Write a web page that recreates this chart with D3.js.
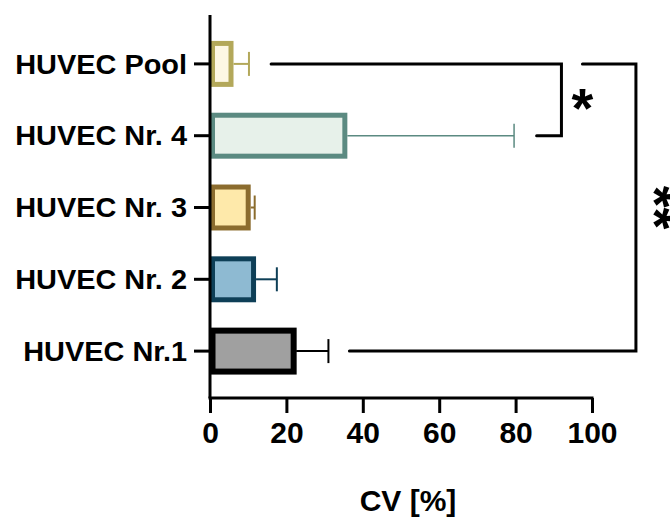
<!DOCTYPE html>
<html>
<head>
<meta charset="utf-8">
<script src="https://cdn.jsdelivr.net/npm/d3@7"></script>
<style>
  body { margin: 0; background: #fff; }
  text { font-family: "Liberation Sans", Arial, sans-serif; font-weight: bold; }
</style>
</head>
<body>
<div id="chart"></div>
<script>
// data
var groups = ["HUVEC Pool", "HUVEC Nr. 4", "HUVEC Nr. 3", "HUVEC Nr. 2", "HUVEC Nr.1"];
var cv_mean = [5.5, 35.3, 10.0, 11.4, 21.9];
var cv_err = [10.2, 79.6, 11.7, 17.5, 31.0];
var fills = ["#fdf7e4", "#e7f1ea", "#fee9aa", "#8ebad2", "#a0a0a0"];
var strokes = ["#b3a85a", "#5b8a81", "#8b6c2e", "#0e3f57", "#000000"];
var x_ticks = [0, 20, 40, 60, 80, 100];
// significance brackets: [from group, to group, label]
var sig = [["HUVEC Pool", "HUVEC Nr. 4", "*"], ["HUVEC Pool", "HUVEC Nr.1", "**"]];

var w = 670, h = 518;
var svg = d3.select("#chart").append("svg")
    .attr("width", w).attr("height", h);

var x = d3.scaleLinear().domain([0, 100]).range([210, 592]);
var y = d3.scaleBand().domain(groups).range([28, 387]).paddingInner(0.36).paddingOuter(0.18);

var bh = y.bandwidth();

// bars
svg.selectAll("rect.bar")
    .data(groups)
    .join("rect")
    .attr("class", "bar")
    .attr("x", x(0) + 2.5)
    .attr("y", d => y(d) + 2.5)
    .attr("width", (d, i) => x(cv_mean[i]) - x(0) - 2.5)
    .attr("height", bh - 5)
    .attr("fill", (d, i) => fills[i])
    .attr("stroke", (d, i) => strokes[i])
    .attr("stroke-width", (d, i) => i == 4 ? 6 : 5);

// error bars
var eb = svg.selectAll("g.err")
    .data(groups)
    .join("g")
    .attr("class", "err")
    .attr("stroke", (d, i) => strokes[i])
    .attr("stroke-width", (d, i) => i == 1 ? 1.5 : 2);

eb.append("line")
    .attr("x1", (d, i) => x(cv_mean[i]) + 2.5)
    .attr("x2", (d, i) => x(cv_err[i]))
    .attr("y1", d => y(d) + bh / 2)
    .attr("y2", d => y(d) + bh / 2);

eb.append("line")
    .attr("x1", (d, i) => x(cv_err[i]))
    .attr("x2", (d, i) => x(cv_err[i]))
    .attr("y1", d => y(d) + bh / 2 - 12)
    .attr("y2", d => y(d) + bh / 2 + 12);

// axes
var yAxis = svg.append("g")
    .attr("transform", `translate(${x(0)},0)`)
    .call(d3.axisLeft(y).tickSize(16).tickPadding(7));
yAxis.select(".domain").attr("d", "M0,15V398");
yAxis.selectAll("line, path").attr("stroke", "#000").attr("stroke-width", 3);
yAxis.selectAll("text")
    .attr("fill", "#000")
    .style("font-size", "27px")
    .attr("dy", "0.36em")
    // labels in the original are a bit wider than the font
    .each(function () {
        var len = this.getComputedTextLength();
        d3.select(this).attr("textLength", len * 1.07).attr("lengthAdjust", "spacingAndGlyphs");
    });

var xAxis = svg.append("g")
    .attr("transform", "translate(0,398)")
    .call(d3.axisBottom(x).tickValues(x_ticks).tickSize(15).tickSizeOuter(0).tickPadding(8));
xAxis.select(".domain").attr("d", `M${x(0) - 1.5},0H${x(100) + 1.5}`);
xAxis.selectAll("line, path").attr("stroke", "#000").attr("stroke-width", 3);
xAxis.selectAll("text")
    .attr("fill", "#000")
    .style("font-size", "30px")
    .attr("dy", "0.72em");

svg.append("text")
    .attr("x", 408).attr("y", 511)
    .attr("text-anchor", "middle")
    .style("font-size", "30px")
    .text("CV [%]");

// significance brackets
var yc = d => y(d) + bh / 2;
var b1 = sig[0], b2 = sig[1];
svg.append("path")
    .attr("d", `M${x(16)},${yc(b1[0])}H${x(92)}V${yc(b1[1])}H${x(85.5)}`)
    .attr("fill", "none").attr("stroke", "#000").attr("stroke-width", 3)
    .attr("stroke-linecap", "round");
svg.append("text")
    .attr("x", x(97.5)).attr("y", (yc(b1[0]) + yc(b1[1])) / 2 + 27)
    .attr("text-anchor", "middle")
    .style("font-size", "56px")
    .text(b1[2]);

svg.append("path")
    .attr("d", `M${x(97.5)},${yc(b2[0])}H${x(111.5)}V${yc(b2[1])}H${x(36.5)}`)
    .attr("fill", "none").attr("stroke", "#000").attr("stroke-width", 3)
    .attr("stroke-linecap", "round");
svg.append("text")
    .attr("transform", `translate(${x(111.5) + 0},${(yc(b2[0]) + yc(b2[1])) / 2}) rotate(90)`)
    .attr("text-anchor", "middle")
    .style("font-size", "56px")
    .text(b2[2]);
</script>
</body>
</html>
